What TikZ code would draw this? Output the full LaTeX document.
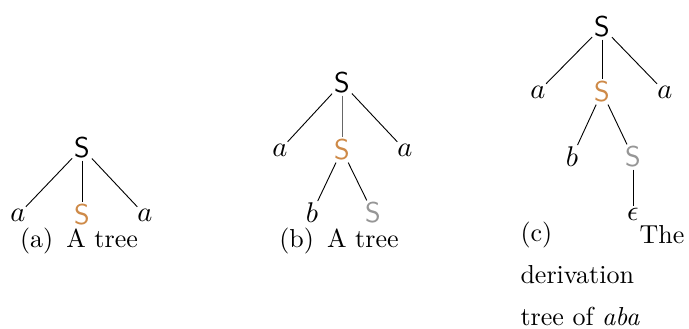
\documentclass[tikz,border=0pt]{standalone}
\usetikzlibrary{positioning}

\definecolor{derivorange}{RGB}{206,138,72}
\definecolor{derivgray}{RGB}{150,150,150}

\begin{document}
\begin{tikzpicture}[
    x=0.3846pt, y=-0.3846pt,
    nt/.style={font=\fontsize{11}{13}\selectfont\sffamily, inner sep=0.6pt},
    sub/.style={nt, text=derivorange},
    leaf/.style={nt, text=derivgray},
    term/.style={font=\fontsize{11}{13}\selectfont, inner sep=0.6pt},
    edge/.style={draw, line width=0.35pt},
    caplbl/.style={font=\normalsize, inner sep=0pt},
  ]
  \useasboundingbox (0,0) rectangle (689,329);

  % --- (a) -----------------------------------------------------------------
  \node[nt]   (aS)  at (82,148)  {S};
  \node[term] (aL)  at (18,215)  {$a$};
  \node[sub]  (aM)  at (82,215)  {S};
  \node[term] (aR)  at (145,215) {$a$};
  \node[caplbl] (aC) at (79,241) {(a)\enspace A tree};

  \draw[edge] (aS) -- (aL);
  \draw[edge] (aS) -- (aM);
  \draw[edge] (aS) -- (aR);

  % --- (b) -----------------------------------------------------------------
  \node[nt]   (bS)  at (342,83)  {S};
  \node[term] (bL)  at (280,150) {$a$};
  \node[sub]  (bM)  at (342,150) {S};
  \node[term] (bR)  at (405,150) {$a$};
  \node[term] (bB)  at (312,213) {$b$};
  \node[leaf] (bS2) at (373,213) {S};
  \node[caplbl] (bC) at (339,241) {(b)\enspace A tree};

  \draw[edge] (bS) -- (bL);
  \draw[edge, draw=black!60] (bS) -- (bM);
  \draw[edge] (bS) -- (bR);
  \draw[edge] (bM) -- (bB);
  \draw[edge] (bM) -- (bS2);

  % --- (c) -----------------------------------------------------------------
  \node[nt]   (cS)  at (602,27)  {S};
  \node[term] (cL)  at (538,92)  {$a$};
  \node[sub]  (cM)  at (602,92)  {S};
  \node[term] (cR)  at (665,92)  {$a$};
  \node[term] (cB)  at (572,157) {$b$};
  \node[leaf] (cS2) at (633,157) {S};
  \node[term] (cE)  at (633,214) {$\epsilon$};
  \node[caplbl, text width=63pt, align=left, anchor=north west] (cC) at (520,221)
    {(c)\hfill\raisebox{-1pt}{The}\\[4.5pt]derivation\\[4pt]tree of \textit{aba}};

  \draw[edge] (cS) -- (cL);
  \draw[edge] (cS) -- (cM);
  \draw[edge] (cS) -- (cR);
  \draw[edge] (cM) -- (cB);
  \draw[edge] (cM) -- (cS2);
  \draw[edge] (cS2) -- (cE);

\end{tikzpicture}
\end{document}
